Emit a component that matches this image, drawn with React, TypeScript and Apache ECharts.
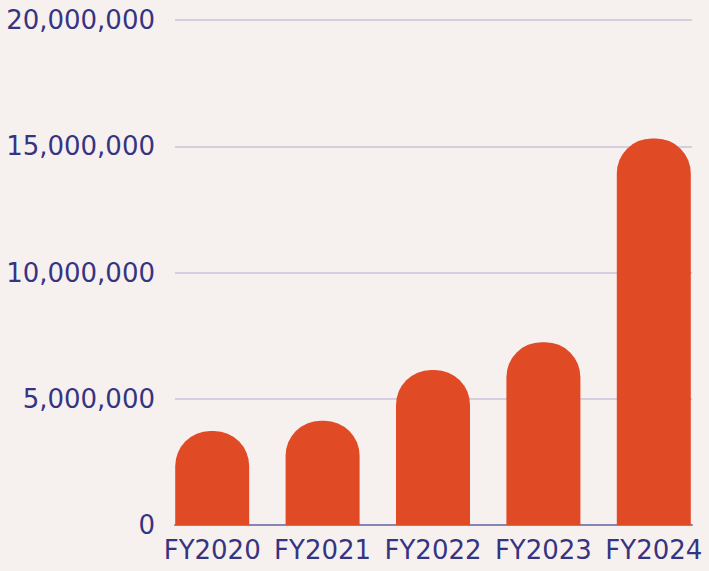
import React, { useEffect, useRef } from "react";
import * as echarts from "echarts";

const categories = ["FY2020", "FY2021", "FY2022", "FY2023", "FY2024"];
const values = [3720000, 4130000, 6140000, 7240000, 15310000];
const yMax = 20000000;
const yInterval = 5000000;

const TEXT = "#363482";
const FONT = "DejaVu Sans";

export default function App() {
  const ref = useRef<HTMLDivElement>(null);
  useEffect(() => {
    if (!ref.current) return;
    const chart = echarts.init(ref.current, null, { renderer: "svg" });
    chart.setOption({
      animation: false,
      backgroundColor: "#f6f1ee",
      grid: [
        { left: 175, right: 17, top: 20, bottom: 46, containLabel: false },
        { left: 157, right: 0, top: 20, bottom: 46, containLabel: false },
      ],
      xAxis: [
        {
          type: "category",
          gridIndex: 0,
          data: categories,
          axisLine: { show: true, lineStyle: { color: "#8784b6", width: 2 } },
          axisTick: { show: false },
          axisLabel: { show: false },
        },
        {
          type: "category",
          gridIndex: 1,
          data: categories,
          axisLine: { show: false },
          axisTick: { show: false },
          axisLabel: {
            color: TEXT,
            fontFamily: FONT,
            fontSize: 26,
            margin: 12,
            interval: 0,
            hideOverlap: false,
          },
        },
      ],
      yAxis: [
        {
          type: "value",
          gridIndex: 0,
          min: 0,
          max: yMax,
          interval: yInterval,
          axisLine: { show: false },
          axisTick: { show: false },
          splitLine: { lineStyle: { color: "#c8c2d8", width: 1.5 } },
          axisLabel: {
            color: TEXT,
            fontFamily: FONT,
            fontSize: 26,
            margin: 20,
            formatter: (v: number) => v.toLocaleString("en-US"),
          },
        },
        {
          type: "value",
          gridIndex: 1,
          min: 0,
          max: yMax,
          interval: yInterval,
          show: false,
          splitLine: { show: false },
        },
      ],
      series: [
        {
          type: "bar",
          xAxisIndex: 1,
          yAxisIndex: 1,
          data: values,
          barWidth: 74,
          itemStyle: { color: "#e04b26", borderRadius: [35, 35, 0, 0] },
        },
      ],
    });
    return () => chart.dispose();
  }, []);
  return (
    <div
      ref={ref}
      style={{ position: "fixed", left: 0, top: 0, width: 709, height: 571 }}
    />
  );
}
